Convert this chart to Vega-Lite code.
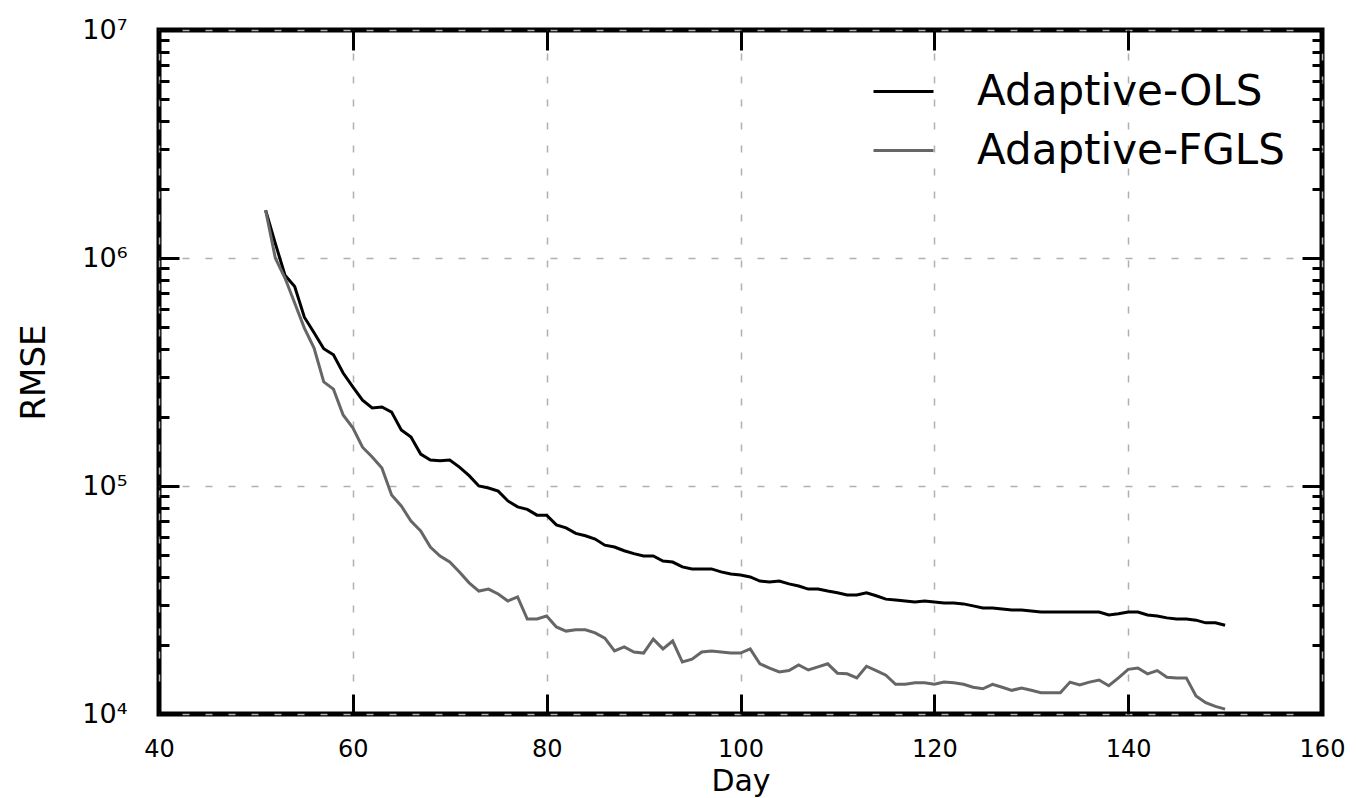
{
  "$schema": "https://vega.github.io/schema/vega-lite/v6.json",
  "width": 1163,
  "height": 684,
  "autosize": "none",
  "padding": {"left": 159, "top": 30, "right": 34, "bottom": 84},
  "background": "white",
  "config": {
    "font": "DejaVu Sans",
    "view": {"stroke": "black", "strokeWidth": 5},
    "axis": {"labelFont": "DejaVu Sans", "titleFont": "DejaVu Sans", "labelColor": "black", "titleColor": "black", "titleFontWeight": "normal", "domain": false, "tickColor": "black", "tickWidth": 3, "gridColor": "#b0b0b0", "gridDash": [7, 16], "gridWidth": 1.5}
  },
  "datasets": {
    "rmse": [
      {"Day":51,"RMSE":1620000,"Series":"Adaptive-OLS"},{"Day":52,"RMSE":1160000,"Series":"Adaptive-OLS"},{"Day":53,"RMSE":840000,"Series":"Adaptive-OLS"},{"Day":54,"RMSE":750000,"Series":"Adaptive-OLS"},{"Day":55,"RMSE":550000,"Series":"Adaptive-OLS"},{"Day":56,"RMSE":470000,"Series":"Adaptive-OLS"},{"Day":57,"RMSE":400000,"Series":"Adaptive-OLS"},{"Day":58,"RMSE":376000,"Series":"Adaptive-OLS"},{"Day":59,"RMSE":313000,"Series":"Adaptive-OLS"},{"Day":60,"RMSE":272000,"Series":"Adaptive-OLS"},
      {"Day":61,"RMSE":238000,"Series":"Adaptive-OLS"},{"Day":62,"RMSE":220000,"Series":"Adaptive-OLS"},{"Day":63,"RMSE":222000,"Series":"Adaptive-OLS"},{"Day":64,"RMSE":211000,"Series":"Adaptive-OLS"},{"Day":65,"RMSE":176000,"Series":"Adaptive-OLS"},{"Day":66,"RMSE":164000,"Series":"Adaptive-OLS"},{"Day":67,"RMSE":138000,"Series":"Adaptive-OLS"},{"Day":68,"RMSE":130000,"Series":"Adaptive-OLS"},{"Day":69,"RMSE":129000,"Series":"Adaptive-OLS"},{"Day":70,"RMSE":130000,"Series":"Adaptive-OLS"},
      {"Day":71,"RMSE":121000,"Series":"Adaptive-OLS"},{"Day":72,"RMSE":111000,"Series":"Adaptive-OLS"},{"Day":73,"RMSE":100000,"Series":"Adaptive-OLS"},{"Day":74,"RMSE":98000,"Series":"Adaptive-OLS"},{"Day":75,"RMSE":95000,"Series":"Adaptive-OLS"},{"Day":76,"RMSE":86000,"Series":"Adaptive-OLS"},{"Day":77,"RMSE":81000,"Series":"Adaptive-OLS"},{"Day":78,"RMSE":79000,"Series":"Adaptive-OLS"},{"Day":79,"RMSE":74500,"Series":"Adaptive-OLS"},{"Day":80,"RMSE":74500,"Series":"Adaptive-OLS"},
      {"Day":81,"RMSE":67500,"Series":"Adaptive-OLS"},{"Day":82,"RMSE":65500,"Series":"Adaptive-OLS"},{"Day":83,"RMSE":62000,"Series":"Adaptive-OLS"},{"Day":84,"RMSE":60500,"Series":"Adaptive-OLS"},{"Day":85,"RMSE":58500,"Series":"Adaptive-OLS"},{"Day":86,"RMSE":55000,"Series":"Adaptive-OLS"},{"Day":87,"RMSE":54000,"Series":"Adaptive-OLS"},{"Day":88,"RMSE":52000,"Series":"Adaptive-OLS"},{"Day":89,"RMSE":50500,"Series":"Adaptive-OLS"},{"Day":90,"RMSE":49300,"Series":"Adaptive-OLS"},
      {"Day":91,"RMSE":49300,"Series":"Adaptive-OLS"},{"Day":92,"RMSE":46900,"Series":"Adaptive-OLS"},{"Day":93,"RMSE":46400,"Series":"Adaptive-OLS"},{"Day":94,"RMSE":44200,"Series":"Adaptive-OLS"},{"Day":95,"RMSE":43300,"Series":"Adaptive-OLS"},{"Day":96,"RMSE":43300,"Series":"Adaptive-OLS"},{"Day":97,"RMSE":43300,"Series":"Adaptive-OLS"},{"Day":98,"RMSE":42000,"Series":"Adaptive-OLS"},{"Day":99,"RMSE":41100,"Series":"Adaptive-OLS"},{"Day":100,"RMSE":40700,"Series":"Adaptive-OLS"},
      {"Day":101,"RMSE":39900,"Series":"Adaptive-OLS"},{"Day":102,"RMSE":38300,"Series":"Adaptive-OLS"},{"Day":103,"RMSE":37900,"Series":"Adaptive-OLS"},{"Day":104,"RMSE":38300,"Series":"Adaptive-OLS"},{"Day":105,"RMSE":37200,"Series":"Adaptive-OLS"},{"Day":106,"RMSE":36400,"Series":"Adaptive-OLS"},{"Day":107,"RMSE":35300,"Series":"Adaptive-OLS"},{"Day":108,"RMSE":35300,"Series":"Adaptive-OLS"},{"Day":109,"RMSE":34600,"Series":"Adaptive-OLS"},{"Day":110,"RMSE":34000,"Series":"Adaptive-OLS"},
      {"Day":111,"RMSE":33300,"Series":"Adaptive-OLS"},{"Day":112,"RMSE":33300,"Series":"Adaptive-OLS"},{"Day":113,"RMSE":34000,"Series":"Adaptive-OLS"},{"Day":114,"RMSE":33000,"Series":"Adaptive-OLS"},{"Day":115,"RMSE":31900,"Series":"Adaptive-OLS"},{"Day":116,"RMSE":31600,"Series":"Adaptive-OLS"},{"Day":117,"RMSE":31300,"Series":"Adaptive-OLS"},{"Day":118,"RMSE":31000,"Series":"Adaptive-OLS"},{"Day":119,"RMSE":31300,"Series":"Adaptive-OLS"},{"Day":120,"RMSE":31000,"Series":"Adaptive-OLS"},
      {"Day":121,"RMSE":30700,"Series":"Adaptive-OLS"},{"Day":122,"RMSE":30700,"Series":"Adaptive-OLS"},{"Day":123,"RMSE":30400,"Series":"Adaptive-OLS"},{"Day":124,"RMSE":29800,"Series":"Adaptive-OLS"},{"Day":125,"RMSE":29200,"Series":"Adaptive-OLS"},{"Day":126,"RMSE":29200,"Series":"Adaptive-OLS"},{"Day":127,"RMSE":28900,"Series":"Adaptive-OLS"},{"Day":128,"RMSE":28600,"Series":"Adaptive-OLS"},{"Day":129,"RMSE":28600,"Series":"Adaptive-OLS"},{"Day":130,"RMSE":28300,"Series":"Adaptive-OLS"},
      {"Day":131,"RMSE":28000,"Series":"Adaptive-OLS"},{"Day":132,"RMSE":28000,"Series":"Adaptive-OLS"},{"Day":133,"RMSE":28000,"Series":"Adaptive-OLS"},{"Day":134,"RMSE":28000,"Series":"Adaptive-OLS"},{"Day":135,"RMSE":28000,"Series":"Adaptive-OLS"},{"Day":136,"RMSE":28000,"Series":"Adaptive-OLS"},{"Day":137,"RMSE":28000,"Series":"Adaptive-OLS"},{"Day":138,"RMSE":27200,"Series":"Adaptive-OLS"},{"Day":139,"RMSE":27500,"Series":"Adaptive-OLS"},{"Day":140,"RMSE":28000,"Series":"Adaptive-OLS"},
      {"Day":141,"RMSE":28000,"Series":"Adaptive-OLS"},{"Day":142,"RMSE":27200,"Series":"Adaptive-OLS"},{"Day":143,"RMSE":26900,"Series":"Adaptive-OLS"},{"Day":144,"RMSE":26400,"Series":"Adaptive-OLS"},{"Day":145,"RMSE":26100,"Series":"Adaptive-OLS"},{"Day":146,"RMSE":26100,"Series":"Adaptive-OLS"},{"Day":147,"RMSE":25800,"Series":"Adaptive-OLS"},{"Day":148,"RMSE":25100,"Series":"Adaptive-OLS"},{"Day":149,"RMSE":25100,"Series":"Adaptive-OLS"},{"Day":150,"RMSE":24500,"Series":"Adaptive-OLS"},
      {"Day":51,"RMSE":1620000,"Series":"Adaptive-FGLS"},{"Day":52,"RMSE":1000000,"Series":"Adaptive-FGLS"},{"Day":53,"RMSE":817000,"Series":"Adaptive-FGLS"},{"Day":54,"RMSE":635000,"Series":"Adaptive-FGLS"},{"Day":55,"RMSE":493000,"Series":"Adaptive-FGLS"},{"Day":56,"RMSE":403000,"Series":"Adaptive-FGLS"},{"Day":57,"RMSE":286000,"Series":"Adaptive-FGLS"},{"Day":58,"RMSE":266000,"Series":"Adaptive-FGLS"},{"Day":59,"RMSE":205000,"Series":"Adaptive-FGLS"},{"Day":60,"RMSE":180000,"Series":"Adaptive-FGLS"},
      {"Day":61,"RMSE":148000,"Series":"Adaptive-FGLS"},{"Day":62,"RMSE":134000,"Series":"Adaptive-FGLS"},{"Day":63,"RMSE":120000,"Series":"Adaptive-FGLS"},{"Day":64,"RMSE":91400,"Series":"Adaptive-FGLS"},{"Day":65,"RMSE":81700,"Series":"Adaptive-FGLS"},{"Day":66,"RMSE":70200,"Series":"Adaptive-FGLS"},{"Day":67,"RMSE":63500,"Series":"Adaptive-FGLS"},{"Day":68,"RMSE":54000,"Series":"Adaptive-FGLS"},{"Day":69,"RMSE":49300,"Series":"Adaptive-FGLS"},{"Day":70,"RMSE":46400,"Series":"Adaptive-FGLS"},
      {"Day":71,"RMSE":42000,"Series":"Adaptive-FGLS"},{"Day":72,"RMSE":37600,"Series":"Adaptive-FGLS"},{"Day":73,"RMSE":34600,"Series":"Adaptive-FGLS"},{"Day":74,"RMSE":35300,"Series":"Adaptive-FGLS"},{"Day":75,"RMSE":33600,"Series":"Adaptive-FGLS"},{"Day":76,"RMSE":31300,"Series":"Adaptive-FGLS"},{"Day":77,"RMSE":32600,"Series":"Adaptive-FGLS"},{"Day":78,"RMSE":26100,"Series":"Adaptive-FGLS"},{"Day":79,"RMSE":26100,"Series":"Adaptive-FGLS"},{"Day":80,"RMSE":26900,"Series":"Adaptive-FGLS"},
      {"Day":81,"RMSE":24100,"Series":"Adaptive-FGLS"},{"Day":82,"RMSE":23100,"Series":"Adaptive-FGLS"},{"Day":83,"RMSE":23400,"Series":"Adaptive-FGLS"},{"Day":84,"RMSE":23400,"Series":"Adaptive-FGLS"},{"Day":85,"RMSE":22700,"Series":"Adaptive-FGLS"},{"Day":86,"RMSE":21500,"Series":"Adaptive-FGLS"},{"Day":87,"RMSE":18900,"Series":"Adaptive-FGLS"},{"Day":88,"RMSE":19700,"Series":"Adaptive-FGLS"},{"Day":89,"RMSE":18700,"Series":"Adaptive-FGLS"},{"Day":90,"RMSE":18500,"Series":"Adaptive-FGLS"},
      {"Day":91,"RMSE":21300,"Series":"Adaptive-FGLS"},{"Day":92,"RMSE":19300,"Series":"Adaptive-FGLS"},{"Day":93,"RMSE":20900,"Series":"Adaptive-FGLS"},{"Day":94,"RMSE":16900,"Series":"Adaptive-FGLS"},{"Day":95,"RMSE":17400,"Series":"Adaptive-FGLS"},{"Day":96,"RMSE":18700,"Series":"Adaptive-FGLS"},{"Day":97,"RMSE":18900,"Series":"Adaptive-FGLS"},{"Day":98,"RMSE":18700,"Series":"Adaptive-FGLS"},{"Day":99,"RMSE":18500,"Series":"Adaptive-FGLS"},{"Day":100,"RMSE":18500,"Series":"Adaptive-FGLS"},
      {"Day":101,"RMSE":19300,"Series":"Adaptive-FGLS"},{"Day":102,"RMSE":16600,"Series":"Adaptive-FGLS"},{"Day":103,"RMSE":15900,"Series":"Adaptive-FGLS"},{"Day":104,"RMSE":15300,"Series":"Adaptive-FGLS"},{"Day":105,"RMSE":15500,"Series":"Adaptive-FGLS"},{"Day":106,"RMSE":16400,"Series":"Adaptive-FGLS"},{"Day":107,"RMSE":15600,"Series":"Adaptive-FGLS"},{"Day":108,"RMSE":16100,"Series":"Adaptive-FGLS"},{"Day":109,"RMSE":16600,"Series":"Adaptive-FGLS"},{"Day":110,"RMSE":15100,"Series":"Adaptive-FGLS"},
      {"Day":111,"RMSE":15000,"Series":"Adaptive-FGLS"},{"Day":112,"RMSE":14400,"Series":"Adaptive-FGLS"},{"Day":113,"RMSE":16200,"Series":"Adaptive-FGLS"},{"Day":114,"RMSE":15500,"Series":"Adaptive-FGLS"},{"Day":115,"RMSE":14800,"Series":"Adaptive-FGLS"},{"Day":116,"RMSE":13500,"Series":"Adaptive-FGLS"},{"Day":117,"RMSE":13500,"Series":"Adaptive-FGLS"},{"Day":118,"RMSE":13700,"Series":"Adaptive-FGLS"},{"Day":119,"RMSE":13700,"Series":"Adaptive-FGLS"},{"Day":120,"RMSE":13500,"Series":"Adaptive-FGLS"},
      {"Day":121,"RMSE":13800,"Series":"Adaptive-FGLS"},{"Day":122,"RMSE":13700,"Series":"Adaptive-FGLS"},{"Day":123,"RMSE":13500,"Series":"Adaptive-FGLS"},{"Day":124,"RMSE":13100,"Series":"Adaptive-FGLS"},{"Day":125,"RMSE":12900,"Series":"Adaptive-FGLS"},{"Day":126,"RMSE":13500,"Series":"Adaptive-FGLS"},{"Day":127,"RMSE":13100,"Series":"Adaptive-FGLS"},{"Day":128,"RMSE":12700,"Series":"Adaptive-FGLS"},{"Day":129,"RMSE":13000,"Series":"Adaptive-FGLS"},{"Day":130,"RMSE":12700,"Series":"Adaptive-FGLS"},
      {"Day":131,"RMSE":12400,"Series":"Adaptive-FGLS"},{"Day":132,"RMSE":12400,"Series":"Adaptive-FGLS"},{"Day":133,"RMSE":12400,"Series":"Adaptive-FGLS"},{"Day":134,"RMSE":13800,"Series":"Adaptive-FGLS"},{"Day":135,"RMSE":13400,"Series":"Adaptive-FGLS"},{"Day":136,"RMSE":13800,"Series":"Adaptive-FGLS"},{"Day":137,"RMSE":14100,"Series":"Adaptive-FGLS"},{"Day":138,"RMSE":13300,"Series":"Adaptive-FGLS"},{"Day":139,"RMSE":14400,"Series":"Adaptive-FGLS"},{"Day":140,"RMSE":15700,"Series":"Adaptive-FGLS"},
      {"Day":141,"RMSE":15900,"Series":"Adaptive-FGLS"},{"Day":142,"RMSE":15000,"Series":"Adaptive-FGLS"},{"Day":143,"RMSE":15500,"Series":"Adaptive-FGLS"},{"Day":144,"RMSE":14500,"Series":"Adaptive-FGLS"},{"Day":145,"RMSE":14400,"Series":"Adaptive-FGLS"},{"Day":146,"RMSE":14400,"Series":"Adaptive-FGLS"},{"Day":147,"RMSE":12000,"Series":"Adaptive-FGLS"},{"Day":148,"RMSE":11200,"Series":"Adaptive-FGLS"},{"Day":149,"RMSE":10800,"Series":"Adaptive-FGLS"},{"Day":150,"RMSE":10500,"Series":"Adaptive-FGLS"}
    ]
  },
  "data": {"name": "rmse"},
  "resolve": {"axis": {"x": "independent", "y": "independent"}},
  "layer": [
    {
      "mark": {"type": "line", "strokeWidth": 3, "clip": true},
      "encoding": {
        "x": {
          "field": "Day", "type": "quantitative",
          "scale": {"domain": [40, 160], "nice": false, "zero": false},
          "axis": {"title": "Day", "orient": "bottom", "values": [40, 60, 80, 100, 120, 140, 160], "tickSize": -20, "labelPadding": 43, "labelFontSize": 24, "titleFontSize": 30, "titlePadding": 5, "grid": true, "labelFlush": false}
        },
        "y": {
          "field": "RMSE", "type": "quantitative",
          "scale": {"type": "log", "domain": [10000, 10000000], "nice": false},
          "axis": {
            "title": "RMSE", "orient": "left",
            "values": [10000, 20000, 30000, 40000, 50000, 60000, 70000, 80000, 90000, 100000, 200000, 300000, 400000, 500000, 600000, 700000, 800000, 900000, 1000000, 2000000, 3000000, 4000000, 5000000, 6000000, 7000000, 8000000, 9000000, 10000000],
            "labelExpr": "datum.value == 10000 ? '10⁴' : datum.value == 100000 ? '10⁵' : datum.value == 1000000 ? '10⁶' : datum.value == 10000000 ? '10⁷' : ''",
            "tickSize": {"condition": {"test": "datum.value == 10000 || datum.value == 100000 || datum.value == 1000000 || datum.value == 10000000", "value": -20}, "value": -10},
            "gridOpacity": {"condition": {"test": "datum.value == 10000 || datum.value == 100000 || datum.value == 1000000 || datum.value == 10000000", "value": 1}, "value": 0},
            "labelPadding": 52, "labelFontSize": 27, "titleFontSize": 34, "titlePadding": 30, "grid": true, "labelFlush": false
          }
        },
        "color": {
          "field": "Series", "type": "nominal",
          "scale": {"domain": ["Adaptive-OLS", "Adaptive-FGLS"], "range": ["#000000", "#666666"]},
          "legend": {"title": null, "orient": "none", "legendX": 713, "legendY": 30, "symbolType": "stroke", "symbolSize": 3600, "symbolStrokeWidth": 3, "labelFontSize": 42, "labelFont": "DejaVu Sans", "labelColor": "black", "labelOffset": 42, "rowPadding": 6, "labelLimit": 0}
        }
      }
    },
    {
      "mark": {"type": "line", "strokeOpacity": 0},
      "encoding": {
        "x": {
          "field": "Day", "type": "quantitative",
          "axis": {"title": null, "orient": "top", "values": [40, 60, 80, 100, 120, 140, 160], "tickSize": -20, "labels": false, "grid": false}
        },
        "y": {
          "field": "RMSE", "type": "quantitative",
          "axis": {
            "title": null, "orient": "right", "labels": false, "grid": false,
            "values": [10000, 20000, 30000, 40000, 50000, 60000, 70000, 80000, 90000, 100000, 200000, 300000, 400000, 500000, 600000, 700000, 800000, 900000, 1000000, 2000000, 3000000, 4000000, 5000000, 6000000, 7000000, 8000000, 9000000, 10000000],
            "tickSize": {"condition": {"test": "datum.value == 10000 || datum.value == 100000 || datum.value == 1000000 || datum.value == 10000000", "value": -20}, "value": -10}
          }
        },
        "detail": {"field": "Series", "type": "nominal"}
      }
    }
  ]
}
